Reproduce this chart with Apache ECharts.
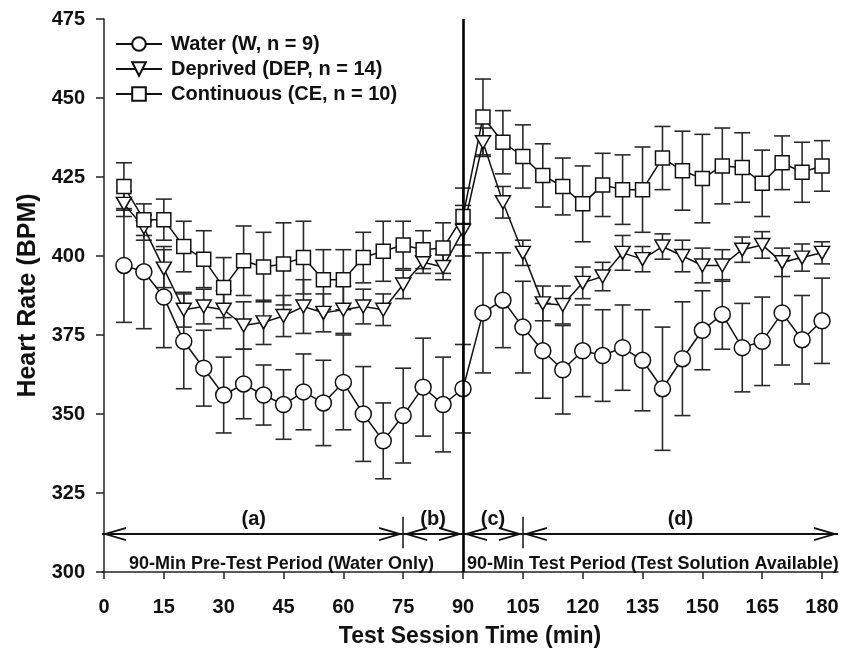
<!DOCTYPE html>
<html>
<head>
<meta charset="utf-8">
<script src="https://cdn.jsdelivr.net/npm/echarts@6/dist/echarts.min.js"></script>
<style>
  html, body { margin: 0; padding: 0; background: #fff; }
  #chart { width: 841px; height: 655px; }
</style>
</head>
<body>
<div id="chart"></div>
<script>
// sample times (min)
var times = [5, 10, 15, 20, 25, 30, 35, 40, 45, 50, 55, 60, 65, 70, 75, 80, 85, 90,
  95, 100, 105, 110, 115, 120, 125, 130, 135, 140, 145, 150, 155, 160, 165, 170, 175, 180];

// mean heart rate (BPM) and SEM for each group
var waterMean = [397, 395, 387, 373, 364.5, 356, 359.5, 356, 353, 357, 353.5, 360, 350, 341.5, 349.5, 358.5, 353, 358,
  382, 386, 377.5, 370, 364, 370, 368.5, 371, 367, 358, 367.5, 376.5, 381.5, 371, 373, 382, 373.5, 379.5];
var waterErr = [18, 18, 16, 15, 12, 12, 11, 9.5, 11, 12, 13.5, 15, 15, 12, 15, 15.5, 15, 14,
  19, 15, 14.5, 15, 14, 14.5, 14.5, 13.5, 16, 19.5, 18, 12.5, 11, 14, 14, 16.5, 14, 13.5];

var depMean = [416.5, 409, 396, 383, 384, 383, 378, 379, 381, 384, 382, 383, 384, 383, 391, 398, 396.5, 408,
  436, 417, 401, 385, 384.5, 391.5, 393.5, 401, 399, 403, 400, 397, 397, 402, 403.5, 398, 399.5, 401];
var depErr = [4, 4, 6, 5.5, 5.5, 6, 7.5, 7, 6.5, 8.5, 6, 7.5, 5.5, 5, 4.5, 3.5, 4, 8,
  4.5, 5, 4, 5.5, 6, 5, 4.5, 5.5, 4, 4, 5, 5.5, 5, 4, 4.2, 4.5, 4.3, 3.5];

var ceMean = [422, 411.5, 411.5, 403, 399, 390, 398.5, 396.5, 397.5, 399.5, 392.5, 392.5, 399.5, 401.5, 403.5, 402, 402.5, 412.5,
  444, 436, 431.5, 425.5, 422, 416.5, 422.5, 421, 421, 431, 427, 424.5, 428.5, 428, 423, 429.5, 426.5, 428.5];
var ceErr = [7.5, 5, 6.5, 8, 9, 9.5, 11, 11, 13, 11.5, 9.5, 9.5, 8, 9.5, 7.5, 6, 8, 9,
  12, 10, 10, 10, 9, 12, 10, 11, 13.5, 10, 12.5, 14, 12, 11, 10.5, 8.5, 9.5, 8];

var xTicks = [0, 15, 30, 45, 60, 75, 90, 105, 120, 135, 150, 165, 180];

// bottom annotation: period arrows and captions
var periods = [
  { from: -0.5, to: 75, label: '(a)' },
  { from: 75, to: 90, label: '(b)' },
  { from: 90, to: 105, label: '(c)' },
  { from: 105, to: 184, label: '(d)' }
];
var arrowLevel = 312;
var periodLabelLevel = 316.5;
var captionLevel = 302.6;
var captions = [
  { x: 44.5, text: '90-Min Pre-Test Period (Water Only)' },
  { x: 137.6, text: '90-Min Test Period (Test Solution Available)' }
];
var dividers = [75, 105];
var sessionSplit = 90;

var chevron = 'path://M0,-24 L0.01,-24 L0,-23.99 Z M0,0 L7,24 L5.1,24 L0,6.4 L-5.1,24 L-7,24 Z';

function pairs(xs, ys) {
  return xs.map(function (x, i) { return [x, ys[i]]; });
}
function triples(xs, ys, es) {
  return xs.map(function (x, i) { return [x, ys[i], es[i]]; });
}

function errorBar(params, api) {
  var x = api.value(0), m = api.value(1), e = api.value(2);
  var hi = api.coord([x, m + e]);
  var lo = api.coord([x, m - e]);
  var w = 8;
  var st = { stroke: '#2a2a2a', lineWidth: 1.6 };
  return {
    type: 'group',
    children: [
      { type: 'line', shape: { x1: hi[0], y1: hi[1], x2: lo[0], y2: lo[1] }, style: st },
      { type: 'line', shape: { x1: hi[0] - w, y1: hi[1], x2: hi[0] + w, y2: hi[1] }, style: st },
      { type: 'line', shape: { x1: lo[0] - w, y1: lo[1], x2: lo[0] + w, y2: lo[1] }, style: st }
    ]
  };
}

function errSeries(name, data) {
  return {
    type: 'custom',
    name: name + ' err',
    renderItem: errorBar,
    data: data,
    encode: { x: 0, y: [1] },
    z: 1,
    silent: true
  };
}

function lineSeries(name, data, symbol, size, rotate) {
  return {
    type: 'line',
    name: name,
    data: data,
    symbol: symbol,
    symbolSize: size,
    symbolRotate: rotate || 0,
    showAllSymbol: true,
    z: 3,
    lineStyle: { color: '#111', width: 1.5 },
    itemStyle: { color: '#fff', borderColor: '#111', borderWidth: 1.5 },
    emphasis: { disabled: true }
  };
}

var arrowLines = periods.map(function (p) {
  return [{ coord: [p.from, arrowLevel] }, { coord: [p.to, arrowLevel] }];
});
var dividerLines = dividers.map(function (d) {
  return [{ coord: [d, 317.5] }, { coord: [d, 307.5] }];
});
var textPoints = periods.map(function (p) {
  return { coord: [(p.from + p.to) / 2 + (p.label === '(a)' ? 0.3 : 0), periodLabelLevel], label: { formatter: p.label, fontSize: 20 } };
}).concat(captions.map(function (c) {
  return { coord: [c.x, captionLevel], label: { formatter: c.text, fontSize: 18 } };
}));

var NAMES = ['Water (W, n = 9)', 'Deprived (DEP, n = 14)', 'Continuous (CE, n = 10)'];
var BOLD = 'Liberation Sans, Arial, sans-serif';

var option = {
  backgroundColor: '#fff',
  animation: false,
  grid: { left: 102, right: 3, top: 19, bottom: 83, outerBoundsMode: 'none', containLabel: false },
  legend: {
    data: NAMES,
    orient: 'vertical',
    left: 110,
    top: 29,
    itemWidth: 46,
    itemHeight: 17,
    itemGap: 5,
    textStyle: { fontFamily: BOLD, fontWeight: 'bold', fontSize: 20, color: '#111', padding: [0, 0, 0, 4] }
  },
  xAxis: {
    type: 'value',
    min: -0.5,
    max: 184,
    name: 'Test Session Time (min)',
    nameLocation: 'middle',
    nameGap: 53,
    nameTextStyle: { fontFamily: BOLD, fontWeight: 'bold', fontSize: 23, color: '#111' },
    splitLine: { show: false },
    axisLine: { lineStyle: { color: '#222', width: 1.5 } },
    axisTick: { show: true, customValues: xTicks, length: 7, lineStyle: { color: '#222', width: 1.5 } },
    axisLabel: { customValues: xTicks, margin: 25, fontFamily: BOLD, fontWeight: 'bold', fontSize: 20, color: '#111' }
  },
  yAxis: {
    type: 'value',
    min: 300,
    max: 475,
    interval: 25,
    name: 'Heart Rate (BPM)',
    nameLocation: 'middle',
    nameGap: 60,
    nameTextStyle: { fontFamily: BOLD, fontWeight: 'bold', fontSize: 25, color: '#111' },
    splitLine: { show: false },
    axisLine: { show: true, lineStyle: { color: '#222', width: 1.5 } },
    axisTick: { show: true, length: 8, lineStyle: { color: '#222', width: 1.5 } },
    axisLabel: { margin: 17, fontFamily: BOLD, fontWeight: 'bold', fontSize: 20, color: '#111' }
  },
  series: [
    errSeries('W', triples(times, waterMean, waterErr)),
    errSeries('DEP', triples(times, depMean, depErr)),
    errSeries('CE', triples(times, ceMean, ceErr)),
    lineSeries(NAMES[0], pairs(times, waterMean), 'circle', 16),
    lineSeries(NAMES[1], pairs(times, depMean), 'triangle', [15, 13], 180),
    lineSeries(NAMES[2], pairs(times, ceMean), 'rect', 14),
    {
      type: 'line',
      name: 'period arrows',
      data: [],
      z: 4,
      markLine: {
        silent: true,
        symbol: [chevron, chevron],
        symbolSize: [14, 48],
        label: { show: false },
        lineStyle: { color: '#111', width: 2, type: 'solid' },
        emphasis: { disabled: true },
        data: arrowLines
      },
      markPoint: {
        silent: true,
        symbol: 'circle',
        symbolSize: 0,
        label: { show: true, position: 'inside', color: '#111', fontFamily: BOLD, fontWeight: 'bold' },
        data: textPoints
      }
    },
    {
      type: 'line',
      name: 'dividers',
      data: [],
      z: 4,
      markLine: {
        silent: true,
        symbol: 'none',
        label: { show: false },
        lineStyle: { color: '#222', width: 1.6, type: 'solid' },
        emphasis: { disabled: true },
        data: dividerLines.concat([{ xAxis: sessionSplit, lineStyle: { width: 2.6, color: '#000' } }])
      }
    }
  ]
};

var chart = echarts.init(document.getElementById('chart'));
chart.setOption(option);
</script>
</body>
</html>
